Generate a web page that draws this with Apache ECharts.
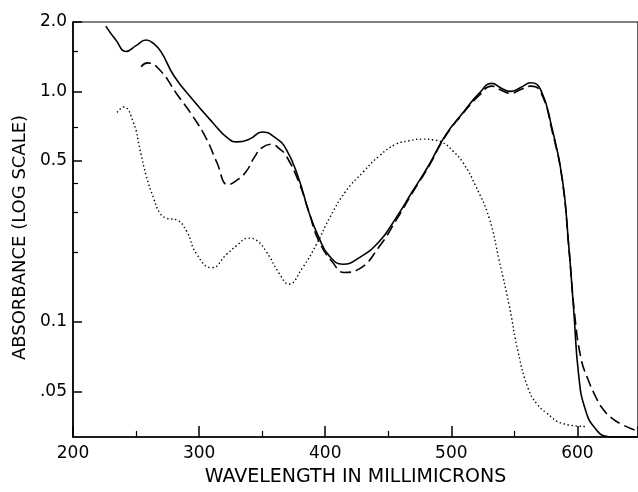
<!DOCTYPE html>
<html>
<head>
<meta charset="utf-8">
<script src="https://cdn.jsdelivr.net/npm/echarts@6/dist/echarts.min.js"></script>
<style>
html,body{margin:0;padding:0;background:#fff;}
#chart{width:638px;height:492px;}
</style>
</head>
<body>
<div id="chart"></div>
<script>
// ---- data (wavelength in millimicrons, absorbance) ----
var solidX = [226, 234, 242, 250, 258, 264, 270, 280, 295, 311, 322, 330, 340, 350, 360, 369, 379, 387, 395, 403, 414, 427, 443, 456, 469, 482, 495, 509, 522, 532, 540, 547, 555, 563, 571, 580, 588, 593, 597, 601, 606, 614, 625, 647];
var solidY = [1.92, 1.67, 1.49, 1.58, 1.67, 1.61, 1.48, 1.17, 0.92, 0.73, 0.632, 0.604, 0.621, 0.667, 0.632, 0.562, 0.418, 0.30, 0.232, 0.194, 0.178, 0.19, 0.224, 0.282, 0.367, 0.477, 0.641, 0.806, 0.98, 1.083, 1.03, 1.0, 1.04, 1.09, 1.013, 0.685, 0.418, 0.217, 0.113, 0.0585, 0.0421, 0.0346, 0.0318, 0.0317];

var dashX = [254, 259, 269, 282, 295, 306, 314, 323, 330, 337, 344, 350, 357, 364, 369, 379, 387, 395, 406, 415, 427, 443, 456, 469, 482, 495, 509, 522, 532, 540, 547, 555, 563, 571, 580, 588, 593, 598, 603, 608, 614, 620, 627, 635, 647];
var dashY = [1.28, 1.33, 1.235, 0.98, 0.78, 0.62, 0.493, 0.394, 0.412, 0.447, 0.52, 0.571, 0.59, 0.562, 0.526, 0.405, 0.30, 0.224, 0.181, 0.164, 0.17, 0.213, 0.275, 0.362, 0.472, 0.635, 0.80, 0.96, 1.054, 1.01, 0.98, 1.02, 1.054, 0.99, 0.67, 0.41, 0.215, 0.105, 0.0688, 0.057, 0.0479, 0.042, 0.0384, 0.036, 0.0337];

var dotX = [235, 240, 248, 253, 258, 264, 269, 274, 282, 290, 298, 310, 322, 330, 339, 346, 353, 364, 371, 382, 393, 404, 416, 430, 443, 456, 466, 477, 486, 493, 501, 509, 519, 530, 538, 546, 553, 561, 568, 575, 588, 606];
var dotY = [0.81, 0.856, 0.73, 0.562, 0.432, 0.343, 0.296, 0.282, 0.277, 0.248, 0.197, 0.172, 0.197, 0.215, 0.231, 0.225, 0.203, 0.161, 0.146, 0.172, 0.217, 0.286, 0.367, 0.447, 0.526, 0.59, 0.61, 0.621, 0.615, 0.601, 0.553, 0.493, 0.392, 0.282, 0.184, 0.117, 0.0738, 0.0513, 0.044, 0.0405, 0.0363, 0.0352];

var yMajorTicks = [2.0, 1.0, 0.5, 0.1, 0.05];
var yMajorLabels = ['2.0', '1.0', '0.5', '0.1', '.05'];
var yMinorTicks = [1.5, 0.7, 0.4, 0.3, 0.2];
var xTickLabels = [200, 300, 400, 500, 600];

var xTitle = 'WAVELENGTH IN MILLIMICRONS';
var yTitle = 'ABSORBANCE (LOG SCALE)';

function pairs(xs, ys) { return xs.map(function (x, i) { return [x, ys[i]]; }); }

var FONT = 'DejaVu Sans';
var chart = echarts.init(document.getElementById('chart'), null, {renderer: 'canvas'});
var option = {
  animation: false,
  backgroundColor: '#fff',
  grid: {left: 73, right: -3, top: 22, bottom: 49, containLabel: false,
         show: true, borderColor: '#000', borderWidth: 1.2},
  xAxis: [{
    type: 'value', min: 200, max: 648, interval: 100,
    splitLine: {show: false},
    axisLine: {show: true, lineStyle: {color: '#000', width: 1.6}},
    axisTick: {show: true, inside: true, length: 11, lineStyle: {color: '#000', width: 1.5}},
    minorTick: {show: true, splitNumber: 2, length: 6, lineStyle: {color: '#000', width: 1.2}},
    axisLabel: {
      color: '#000', fontFamily: FONT, fontSize: 17, margin: 8, showMaxLabel: false,
      formatter: function (v) { return xTickLabels.indexOf(v) >= 0 ? String(v) : ''; }
    },
    name: xTitle, nameLocation: 'middle', nameGap: 31,
    nameTextStyle: {color: '#000', fontFamily: FONT, fontSize: 19}
  }],
  yAxis: [{
    type: 'log', min: 0.0317, max: 2.0,
    splitLine: {show: false},
    axisLine: {show: true, lineStyle: {color: '#000', width: 1.6}},
    axisTick: {show: true, inside: true, length: 9, customValues: yMajorTicks, lineStyle: {color: '#000', width: 1.5}},
    axisLabel: {
      color: '#000', fontFamily: FONT, fontSize: 17, margin: 6,
      customValues: yMajorTicks,
      formatter: function (v) {
        for (var i = 0; i < yMajorTicks.length; i++) {
          if (Math.abs(yMajorTicks[i] - v) < 1e-6) return yMajorLabels[i];
        }
        return '';
      }
    },
    name: yTitle, nameLocation: 'middle', nameGap: 42, nameRotate: 90,
    nameTextStyle: {color: '#000', fontFamily: FONT, fontSize: 18, padding: [0, 16, 0, 0]}
  }, {
    type: 'log', min: 0.0317, max: 2.0, position: 'left',
    splitLine: {show: false},
    axisLine: {show: false},
    axisTick: {show: true, inside: true, length: 5, customValues: yMinorTicks, lineStyle: {color: '#000', width: 1.2}},
    axisLabel: {show: false}
  }],
  series: [{
    type: 'line', data: pairs(solidX, solidY), showSymbol: false, symbol: 'none',
    smooth: 0.5,
    lineStyle: {color: '#000', width: 1.6, type: 'solid'}
  }, {
    type: 'line', data: pairs(dashX, dashY), showSymbol: false, symbol: 'none',
    smooth: 0.5,
    lineStyle: {color: '#000', width: 1.6, type: [11, 5]}
  }, {
    type: 'line', data: pairs(dotX, dotY), showSymbol: false, symbol: 'none',
    smooth: 0.5,
    lineStyle: {color: '#000', width: 1.4, type: [1.4, 2.6]}
  }]
};
chart.setOption(option);
</script>
</body>
</html>
